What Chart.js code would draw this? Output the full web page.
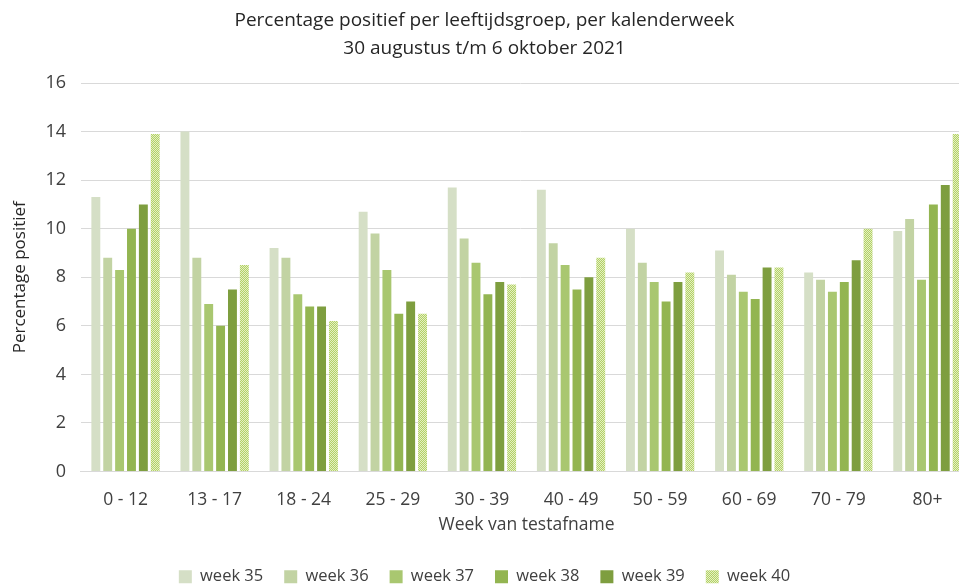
<!DOCTYPE html>
<html>
<head>
    <title>Percentage positief per leeftijdsgroep</title>
    <style>
        body, html {
            margin: 0;
            padding: 0;
            background: #fff;
            overflow: hidden;
        }
        #wrap {
            width: 959px;
            height: 585px;
        }
    </style>
</head>
<body>
    <div id="wrap"><canvas id="chart"></canvas></div>

    <script src="https://cdn.jsdelivr.net/npm/chart.js"></script>
    <script>
        let groups = ['0 - 12', '13 - 17', '18 - 24', '25 - 29', '30 - 39', '40 - 49', '50 - 59', '60 - 69', '70 - 79', '80+'];
        let weeks = ['week 35', 'week 36', 'week 37', 'week 38', 'week 39', 'week 40'];

        let week35 = [11.3, 14.0, 9.2, 10.7, 11.7, 11.6, 10.0, 9.1, 8.2, 9.9];
        let week36 = [8.8, 8.8, 8.8, 9.8, 9.6, 9.4, 8.6, 8.1, 7.9, 10.4];
        let week37 = [8.3, 6.9, 7.3, 8.3, 8.6, 8.5, 7.8, 7.4, 7.4, 7.9];
        let week38 = [10.0, 6.0, 6.8, 6.5, 7.3, 7.5, 7.0, 7.1, 7.8, 11.0];
        let week39 = [11.0, 7.5, 6.8, 7.0, 7.8, 8.0, 7.8, 8.4, 8.7, 11.8];
        let week40 = [13.9, 8.5, 6.2, 6.5, 7.7, 8.8, 8.2, 8.4, 10.0, 13.9];

        // week 40 is drawn with a dotted fill like the original
        function dots() {
            let c = document.createElement('canvas');
            c.width = 2;
            c.height = 2;
            let ctx = c.getContext('2d');
            ctx.fillStyle = '#b3d265';
            ctx.fillRect(0, 0, 2, 2);
            ctx.fillStyle = '#e4efc4';
            ctx.fillRect(0, 0, 1, 1);
            ctx.fillRect(1, 1, 1, 1);
            return ctx.createPattern(c, 'repeat');
        }

        let colors = ['#d5dfc6', '#c2d3a3', '#a9c770', '#93b551', '#7e9e3f', dots()];
        let series = [week35, week36, week37, week38, week39, week40];

        let font = "'Open Sans', 'Liberation Sans', sans-serif";

        // the original plot runs past the right edge of the picture
        let overflow = 13;
        let stretchRight = {
            id: 'stretchRight',
            afterLayout(chart) {
                let x = chart.scales.x;
                chart.chartArea.right += overflow;
                chart.chartArea.width += overflow;
                x.right += overflow;
                x.width += overflow;
                x.configure();
            }
        };

        new Chart(document.getElementById('chart'), {
            type: 'bar',
            data: {
                labels: groups,
                datasets: weeks.map((w, i) => ({
                    label: w,
                    data: series[i],
                    backgroundColor: colors[i],
                    borderWidth: 0,
                    categoryPercentage: 0.8,
                    barPercentage: 0.75
                }))
            },
            options: {
                responsive: true,
                maintainAspectRatio: false,
                animation: false,
                layout: {
                    padding: { left: 10, right: 0, top: 6, bottom: -10 }
                },
                plugins: {
                    title: {
                        display: true,
                        text: ['Percentage positief per leeftijdsgroep, per kalenderweek', '30 augustus t/m 6 oktober 2021'],
                        color: '#262626',
                        font: { family: font, size: 19, weight: 'normal', lineHeight: 1.5 },
                        padding: { top: 0, bottom: 20 }
                    },
                    legend: {
                        position: 'bottom',
                        labels: {
                            color: '#404040',
                            font: { family: font, size: 16.5 },
                            boxWidth: 13,
                            boxHeight: 13,
                            padding: 21
                        }
                    },
                    tooltip: { enabled: false }
                },
                scales: {
                    x: {
                        grid: { display: false, drawTicks: false },
                        border: { color: '#d9d9d9' },
                        ticks: {
                            color: '#404040',
                            font: { family: font, size: 17.5 },
                            padding: 18
                        },
                        title: {
                            display: true,
                            text: 'Week van testafname',
                            color: '#404040',
                            font: { family: font, size: 17.5 },
                            padding: { top: -14, bottom: 12 }
                        }
                    },
                    y: {
                        min: 0,
                        max: 16,
                        ticks: {
                            stepSize: 2,
                            color: '#404040',
                            font: { family: font, size: 18 },
                            padding: 15
                        },
                        grid: { color: '#d9d9d9', drawTicks: false },
                        border: { display: false },
                        title: {
                            display: true,
                            text: 'Percentage positief',
                            color: '#262626',
                            font: { family: font, size: 17 },
                            padding: { top: 0, bottom: 0 }
                        }
                    }
                }
            },
            plugins: [stretchRight]
        });
    </script>
</body>
</html>
